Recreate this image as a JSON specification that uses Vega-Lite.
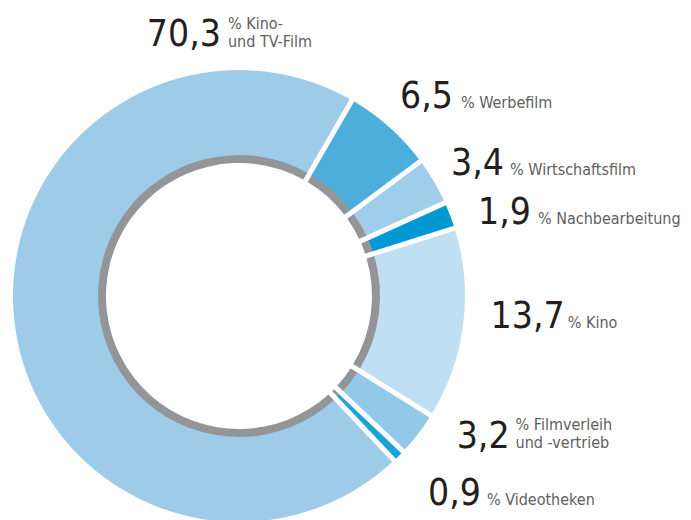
{
  "$schema": "https://vega.github.io/schema/vega-lite/v6.json",
  "width": 691,
  "height": 520,
  "autosize": "none",
  "padding": 0,
  "background": "white",
  "config": {
    "view": {"stroke": null},
    "locale": {"number": {"decimal": ",", "thousands": ".", "grouping": [3], "currency": ["", " €"]}}
  },
  "data": {
    "values": [
      {"k": 1, "cat": "Werbefilm", "v": 6.5, "txt": "% Werbefilm"},
      {"k": 2, "cat": "Wirtschaftsfilm", "v": 3.4, "txt": "% Wirtschaftsfilm"},
      {"k": 3, "cat": "Nachbearbeitung", "v": 1.9, "txt": "% Nachbearbeitung"},
      {"k": 4, "cat": "Kino", "v": 13.7, "txt": "% Kino"},
      {"k": 5, "cat": "Filmverleih und -vertrieb", "v": 3.2, "txt": "% Filmverleih\nund -vertrieb"},
      {"k": 6, "cat": "Videotheken", "v": 0.9, "txt": "% Videotheken"},
      {"k": 7, "cat": "Kino- und TV-Film", "v": 70.3, "txt": "% Kino-\nund TV-Film"}
    ]
  },
  "encoding": {
    "theta": {"field": "v", "type": "quantitative", "stack": true, "scale": {"domain": [0, 99.9], "range": [0.5236, 6.8068]}},
    "order": {"field": "k", "type": "quantitative"}
  },
  "layer": [
    {
      "mark": {"type": "arc", "x": 239, "y": 296, "outerRadius": 226, "innerRadius": 140.5, "padAngle": 0.019},
      "encoding": {
        "color": {
          "field": "cat", "type": "nominal", "legend": null,
          "scale": {
            "domain": ["Werbefilm", "Wirtschaftsfilm", "Nachbearbeitung", "Kino", "Filmverleih und -vertrieb", "Videotheken", "Kino- und TV-Film"],
            "range": ["#4daedc", "#a0cdea", "#0099d3", "#c0dff3", "#93c9e8", "#1da3d8", "#9ecbe8"]
          }
        }
      }
    },
    {
      "mark": {"type": "arc", "x": 239, "y": 296, "outerRadius": 141, "innerRadius": 133, "padAngle": 0.026, "color": "#939598"}
    },
    {
      "mark": {
        "type": "text", "x": 239, "y": 296, "radius": 290, "align": "right", "baseline": "alphabetic",
        "font": "'DejaVu Sans Condensed', sans-serif",
        "fontSize": 37, "color": "#231f20",
        "dx": {"expr": "[21,15,21,38,41,37,270][datum.k-1]"},
        "dy": {"expr": "[28.5,26,31.4,-4.4,-25.5,3.8,-283.7][datum.k-1]"}
      },
      "encoding": {"text": {"field": "v", "type": "quantitative", "format": ".1f"}}
    },
    {
      "mark": {
        "type": "text", "x": 239, "y": 296, "radius": 290, "align": "left", "baseline": "alphabetic",
        "font": "'DejaVu Sans Condensed', sans-serif",
        "fontSize": 16, "lineHeight": 18, "lineBreak": "\n", "color": "#5f6062",
        "dx": {"expr": "[29,21,28,41,47,43,277][datum.k-1]"},
        "dy": {"expr": "[28.5,25.5,31,-4.4,-43.5,3.8,-300.7][datum.k-1]"}
      },
      "encoding": {"text": {"field": "txt", "type": "nominal"}}
    }
  ]
}
